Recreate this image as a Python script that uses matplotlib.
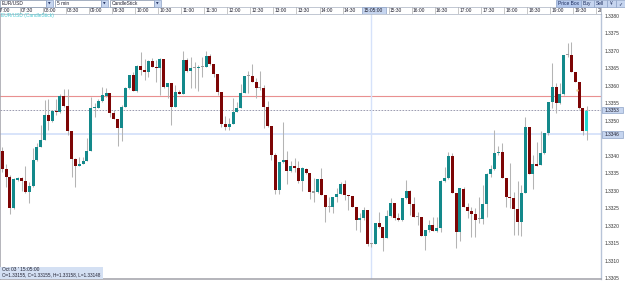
import matplotlib
matplotlib.use('Agg')
import matplotlib.pyplot as plt
from matplotlib.patches import Rectangle
from matplotlib.transforms import blended_transform_factory

plt.rcParams['font.family'] = ['Liberation Sans', 'DejaVu Sans']

W, H = 625, 281

# EUR/USD 5 min bars, first bar 07:05
first_bar = '07:05'
bar_minutes = 5

opens = [1.33414, 1.33362, 1.33338, 1.33252, 1.33332, 1.33336, 1.33328, 1.33297, 1.33314, 1.33388,
         1.33424, 1.33445, 1.33516, 1.33500, 1.33529, 1.33526, 1.33571, 1.33542, 1.33472, 1.33390,
         1.33371, 1.33376, 1.33386, 1.33414, 1.33537, 1.33537, 1.33556, 1.33571, 1.33579, 1.33521,
         1.33505, 1.33478, 1.33540, 1.33593, 1.33631, 1.33586, 1.33657, 1.33645, 1.33640, 1.33672,
         1.33654, 1.33650, 1.33676, 1.33596, 1.33607, 1.33538, 1.33581, 1.33576, 1.33674, 1.33642,
         1.33652, 1.33650, 1.33654, 1.33654, 1.33685, 1.33661, 1.33634, 1.33581, 1.33491, 1.33483,
         1.33491, 1.33524, 1.33536, 1.33579, 1.33628, 1.33628, 1.33612, 1.33594, 1.33594, 1.33540,
         1.33485, 1.33402, 1.33302, 1.33381, 1.33388, 1.33357, 1.33372, 1.33366, 1.33329, 1.33362,
         1.33352, 1.33295, 1.33296, 1.33334, 1.33288, 1.33253, 1.33253, 1.33281, 1.33291, 1.33319,
         1.33288, 1.33285, 1.33255, 1.33217, 1.33221, 1.33245, 1.33148, 1.33148, 1.33209, 1.33197,
         1.33166, 1.33228, 1.33266, 1.33223, 1.33217, 1.33278, 1.33300, 1.33261, 1.33224, 1.33224,
         1.33172, 1.33188, 1.33202, 1.33185, 1.33195, 1.33329, 1.33336, 1.33399, 1.33295, 1.33183,
         1.33305, 1.33255, 1.33243, 1.33234, 1.33218, 1.33218, 1.33262, 1.33348, 1.33361, 1.33407,
         1.33411, 1.33336, 1.33283, 1.33278, 1.33248, 1.33212, 1.33293, 1.33481, 1.33347, 1.33376,
         1.33374, 1.33407, 1.33464, 1.33554, 1.33596, 1.33550, 1.33576, 1.33688, 1.33688, 1.33640,
         1.33612, 1.33536, 1.33472]
highs = [1.33426, 1.33376, 1.33345, 1.33336, 1.33340, 1.33340, 1.33371, 1.33326, 1.33421, 1.33436,
         1.33488, 1.33559, 1.33561, 1.33531, 1.33561, 1.33576, 1.33590, 1.33590, 1.33472, 1.33393,
         1.33396, 1.33397, 1.33450, 1.33567, 1.33552, 1.33561, 1.33596, 1.33593, 1.33579, 1.33531,
         1.33505, 1.33545, 1.33597, 1.33631, 1.33640, 1.33659, 1.33696, 1.33676, 1.33674, 1.33678,
         1.33674, 1.33678, 1.33676, 1.33607, 1.33607, 1.33602, 1.33588, 1.33699, 1.33678, 1.33681,
         1.33669, 1.33659, 1.33681, 1.33699, 1.33690, 1.33661, 1.33634, 1.33581, 1.33514, 1.33507,
         1.33564, 1.33554, 1.33604, 1.33628, 1.33643, 1.33661, 1.33621, 1.33642, 1.33602, 1.33556,
         1.33485, 1.33407, 1.33381, 1.33497, 1.33414, 1.33385, 1.33394, 1.33385, 1.33369, 1.33366,
         1.33352, 1.33336, 1.33334, 1.33364, 1.33288, 1.33281, 1.33283, 1.33307, 1.33326, 1.33331,
         1.33288, 1.33285, 1.33255, 1.33236, 1.33255, 1.33245, 1.33151, 1.33209, 1.33240, 1.33197,
         1.33245, 1.33280, 1.33266, 1.33236, 1.33278, 1.33331, 1.33302, 1.33283, 1.33240, 1.33224,
         1.33188, 1.33217, 1.33226, 1.33224, 1.33331, 1.33369, 1.33412, 1.33407, 1.33295, 1.33307,
         1.33312, 1.33264, 1.33255, 1.33250, 1.33283, 1.33317, 1.33350, 1.33374, 1.33474, 1.33428,
         1.33436, 1.33336, 1.33378, 1.33297, 1.33329, 1.33317, 1.33510, 1.33481, 1.33402, 1.33440,
         1.33472, 1.33464, 1.33554, 1.33664, 1.33607, 1.33607, 1.33688, 1.33721, 1.33726, 1.33640,
         1.33612, 1.33536, 1.33542]
lows = [1.33354, 1.33310, 1.33234, 1.33248, 1.33329, 1.33300, 1.33294, 1.33264, 1.33312, 1.33386,
        1.33424, 1.33445, 1.33474, 1.33497, 1.33516, 1.33523, 1.33540, 1.33459, 1.33340, 1.33312,
        1.33371, 1.33376, 1.33386, 1.33414, 1.33510, 1.33536, 1.33554, 1.33569, 1.33512, 1.33505,
        1.33429, 1.33442, 1.33540, 1.33591, 1.33586, 1.33583, 1.33631, 1.33616, 1.33626, 1.33653,
        1.33612, 1.33574, 1.33593, 1.33564, 1.33488, 1.33538, 1.33576, 1.33576, 1.33640, 1.33594,
        1.33593, 1.33585, 1.33626, 1.33654, 1.33659, 1.33624, 1.33574, 1.33483, 1.33474, 1.33474,
        1.33491, 1.33524, 1.33536, 1.33579, 1.33578, 1.33612, 1.33566, 1.33588, 1.33478, 1.33483,
        1.33388, 1.33290, 1.33290, 1.33378, 1.33319, 1.33354, 1.33354, 1.33321, 1.33300, 1.33348,
        1.33276, 1.33269, 1.33293, 1.33288, 1.33212, 1.33240, 1.33237, 1.33269, 1.33291, 1.33274,
        1.33245, 1.33255, 1.33188, 1.33183, 1.33217, 1.33142, 1.33140, 1.33148, 1.33195, 1.33128,
        1.33166, 1.33226, 1.33217, 1.33214, 1.33214, 1.33276, 1.33231, 1.33224, 1.33202, 1.33172,
        1.33131, 1.33183, 1.33185, 1.33183, 1.33183, 1.33326, 1.33334, 1.33295, 1.33136, 1.33157,
        1.33255, 1.33221, 1.33169, 1.33169, 1.33207, 1.33205, 1.33224, 1.33340, 1.33359, 1.33402,
        1.33336, 1.33255, 1.33250, 1.33174, 1.33174, 1.33172, 1.33293, 1.33347, 1.33304, 1.33371,
        1.33374, 1.33405, 1.33459, 1.33536, 1.33523, 1.33548, 1.33574, 1.33683, 1.33640, 1.33612,
        1.33533, 1.33459, 1.33445]
closes = [1.33362, 1.33338, 1.33252, 1.33333, 1.33336, 1.33329, 1.33297, 1.33314, 1.33388, 1.33424,
          1.33445, 1.33516, 1.33500, 1.33529, 1.33524, 1.33571, 1.33542, 1.33472, 1.33390, 1.33371,
          1.33376, 1.33386, 1.33414, 1.33537, 1.33540, 1.33556, 1.33574, 1.33579, 1.33521, 1.33505,
          1.33478, 1.33540, 1.33593, 1.33631, 1.33586, 1.33657, 1.33645, 1.33640, 1.33672, 1.33654,
          1.33650, 1.33676, 1.33596, 1.33607, 1.33538, 1.33581, 1.33576, 1.33674, 1.33642, 1.33650,
          1.33650, 1.33654, 1.33656, 1.33685, 1.33661, 1.33634, 1.33581, 1.33491, 1.33483, 1.33491,
          1.33524, 1.33536, 1.33579, 1.33628, 1.33629, 1.33612, 1.33594, 1.33593, 1.33540, 1.33485,
          1.33402, 1.33302, 1.33381, 1.33388, 1.33357, 1.33372, 1.33366, 1.33329, 1.33364, 1.33352,
          1.33297, 1.33297, 1.33334, 1.33288, 1.33253, 1.33254, 1.33281, 1.33291, 1.33319, 1.33288,
          1.33285, 1.33255, 1.33217, 1.33221, 1.33245, 1.33148, 1.33149, 1.33209, 1.33197, 1.33166,
          1.33228, 1.33266, 1.33223, 1.33217, 1.33278, 1.33300, 1.33261, 1.33224, 1.33225, 1.33172,
          1.33188, 1.33202, 1.33185, 1.33195, 1.33329, 1.33336, 1.33399, 1.33295, 1.33183, 1.33307,
          1.33255, 1.33243, 1.33234, 1.33217, 1.33219, 1.33262, 1.33348, 1.33361, 1.33407, 1.33411,
          1.33336, 1.33283, 1.33278, 1.33248, 1.33212, 1.33293, 1.33481, 1.33347, 1.33376, 1.33371,
          1.33407, 1.33464, 1.33554, 1.33596, 1.33550, 1.33576, 1.33688, 1.33690, 1.33640, 1.33612,
          1.33536, 1.33472, 1.33529]

# 15:00 sits under the cursor time box, so it is not listed
time_labels = ['07:00', '07:30', '08:00', '08:30', '09:00', '09:30', '10:00', '10:30', '11:00',
               '11:30', '12:00', '12:30', '13:00', '13:30', '14:00', '14:30', '15:30',
               '16:00', '16:30', '17:00', '17:30', '18:00', '18:30', '19:00', '19:30', '20:00']
price_ticks = [1.3305, 1.3310, 1.3315, 1.3320, 1.3325, 1.3330, 1.3335, 1.3340,
               1.3350, 1.3355, 1.3360, 1.3365, 1.3370, 1.3375, 1.3380]

cursor_time = '15:05'
cursor_label = '15:05:00'
red_level = 1.33571
ask_level = 1.3353
bid_level = 1.33461
marker_bar, marker_price = 149.5, 1.33588
status_lines = ["Oct 03 ' 15:05:00", "O=1.33155, C=1.33155, H=1.33158, L=1.33148"]

UP, DOWN, LAST, DOJI, WICK = '#13898b', '#7d0505', '#25d6cf', '#9c9c9c', '#b4b4b4'
PANEL_BLUE = '#c6d5ef'
EDGE_BLUE = '#8ea3c8'
TXT = '#202030'
FS = 3.5


def bar_index(t):
    h, m = map(int, t.split(':'))
    h0, m0 = map(int, first_bar.split(':'))
    return ((h * 60 + m) - (h0 * 60 + m0)) / bar_minutes


def fx(x):
    return x / W


def fy(y):
    return 1 - y / H


def px_rect(x0, y0, x1, y1, **kw):
    r = Rectangle((fx(x0), fy(y1)), (x1 - x0) / W, (y1 - y0) / H,
                  transform=fig.transFigure, **kw)
    fig.add_artist(r)
    return r


fig = plt.figure(figsize=(W / 100, H / 100), dpi=100, facecolor='white')

# main price panel
ax = fig.add_axes([0, fy(279), fx(601), (279 - 14) / H])
ax.set_xlim(-0.6, 155.7)
ax.set_ylim(1.33048, 1.33805)
ax.set_facecolor('white')

n = len(opens)
xs = list(range(n))
min_body = 0.00003
bottoms, heights, colors = [], [], []
for i in xs:
    o, c = opens[i], closes[i]
    if i == n - 1:
        col = LAST
    elif abs(c - o) < 0.000025:
        col = DOJI
    elif c > o:
        col = UP
    else:
        col = DOWN
    bottoms.append(min(o, c))
    heights.append(max(abs(c - o), min_body))
    colors.append(col)

ax.axhline(red_level, color='#e99090', lw=0.8, zorder=1)
ax.axhline(bid_level, color='#d6e2fa', lw=1.3, zorder=1)
ax.axhline(ask_level, color='#8c8ca4', lw=0.6, dashes=(2, 1.6), zorder=1)
ax.axvline(bar_index(cursor_time), color='#d6e2fa', lw=1.0, zorder=1)

ax.vlines(xs, lows, highs, color=WICK, lw=0.75, zorder=2)
ax.bar(xs, heights, bottom=bottoms, width=0.78, color=colors, linewidth=0, zorder=3)
ax.plot([marker_bar], [marker_price], 'o', ms=1.8, color='#f0d49a', mec='none', zorder=4)

ax.yaxis.tick_right()
ax.set_yticks(price_ticks)
ax.set_yticklabels([f'{p:.4f}' for p in price_ticks])
ax.tick_params(axis='y', length=0, pad=2.6, labelsize=FS, labelcolor='#333333')
ax.set_xticks([])
for side in ('left', 'bottom'):
    ax.spines[side].set_color('#a0a0a8')
    ax.spines[side].set_linewidth(1.1)
ax.spines['top'].set_visible(False)
ax.spines['right'].set_color('#b8c4d8')
ax.spines['right'].set_linewidth(1.0)

fig.text(fx(1.5), fy(15.6), 'EUR/USD (CandleStick)', color='#4ccad2', fontsize=FS, va='center')

# price boxes on the right axis
blend = blended_transform_factory(fig.transFigure, ax.transData)
ppx = (1.33805 - 1.33048) / 265
for lvl, txt in [(ask_level, '1.3353'), (bid_level, '1.3346')]:
    fig.add_artist(Rectangle((fx(602), lvl - 3.2 * ppx), 21 / W, 6.4 * ppx, transform=blend,
                             facecolor=PANEL_BLUE, edgecolor=EDGE_BLUE, lw=0.5))
    fig.text(fx(605), lvl, txt, transform=blend, fontsize=FS, va='center', color=TXT)

# time row
tx = fig.add_axes([0, fy(13.8), fx(601), 6.5 / H])
tx.set_xlim(ax.get_xlim())
tx.set_ylim(0, 1)
tx.set_xticks([])
tx.set_yticks([])
for s in tx.spines.values():
    s.set_color('#a8b0c0')
    s.set_linewidth(0.5)
for lab in time_labels:
    k = bar_index(lab) - 0.5
    tx.axvline(k, color='#b0b0b0', lw=0.5)
    tx.text(k + 0.3, 0.5, lab, fontsize=FS, va='center', color=TXT, clip_on=True)
ci = bar_index(cursor_time)
tx.add_patch(Rectangle((ci - 2.4, 0.02), 6.2, 0.96, facecolor=PANEL_BLUE,
                       edgecolor=EDGE_BLUE, lw=0.5, zorder=5))
tx.text(ci - 2.15, 0.5, cursor_label, fontsize=FS, va='center', color=TXT, zorder=6)

# toolbar
for x0, x1, label in [(0, 45.5, 'EUR/USD'), (55, 100.5, '5 min'), (109.5, 153.5, 'CandleStick')]:
    px_rect(x0, 0, x1, 6.8, facecolor='white', edgecolor='#8090a8', lw=0.5)
    fig.text(fx(x0 + 2), fy(3.4), label, fontsize=FS, va='center', color=TXT)
    px_rect(x1 + 0.7, 0, x1 + 7.3, 6.8, facecolor=PANEL_BLUE, edgecolor=EDGE_BLUE, lw=0.5)
    fig.text(fx(x1 + 4), fy(3.6), '\u25bc', fontsize=2.4, va='center', ha='center',
             color='#203060', family='DejaVu Sans')

for x0, x1, label, fc in [(556, 580.5, 'Price Box', '#b3c7ec'), (581, 593.5, 'Buy', PANEL_BLUE),
                          (594, 606.5, 'Sell', PANEL_BLUE), (607, 615.5, '\u00a5', PANEL_BLUE),
                          (616, 625, '\u2713', PANEL_BLUE)]:
    px_rect(x0, 0, x1, 7, facecolor=fc, edgecolor=EDGE_BLUE, lw=0.5)
    fig.text(fx((x0 + x1) / 2), fy(3.5), label, fontsize=FS, va='center', ha='center',
             color='#1c2c5c', family=['DejaVu Sans'] if label == '\u2713' else None)

# status box bottom-left
px_rect(0, 266.5, 103, 279, facecolor='#d4e0f3', edgecolor='none')
fig.text(fx(2), fy(269.6), status_lines[0], fontsize=FS, va='center', color=TXT)
fig.text(fx(2), fy(275.2), status_lines[1], fontsize=3.3, va='center', color=TXT)

fig.savefig('out.png', dpi=100, facecolor='white')
